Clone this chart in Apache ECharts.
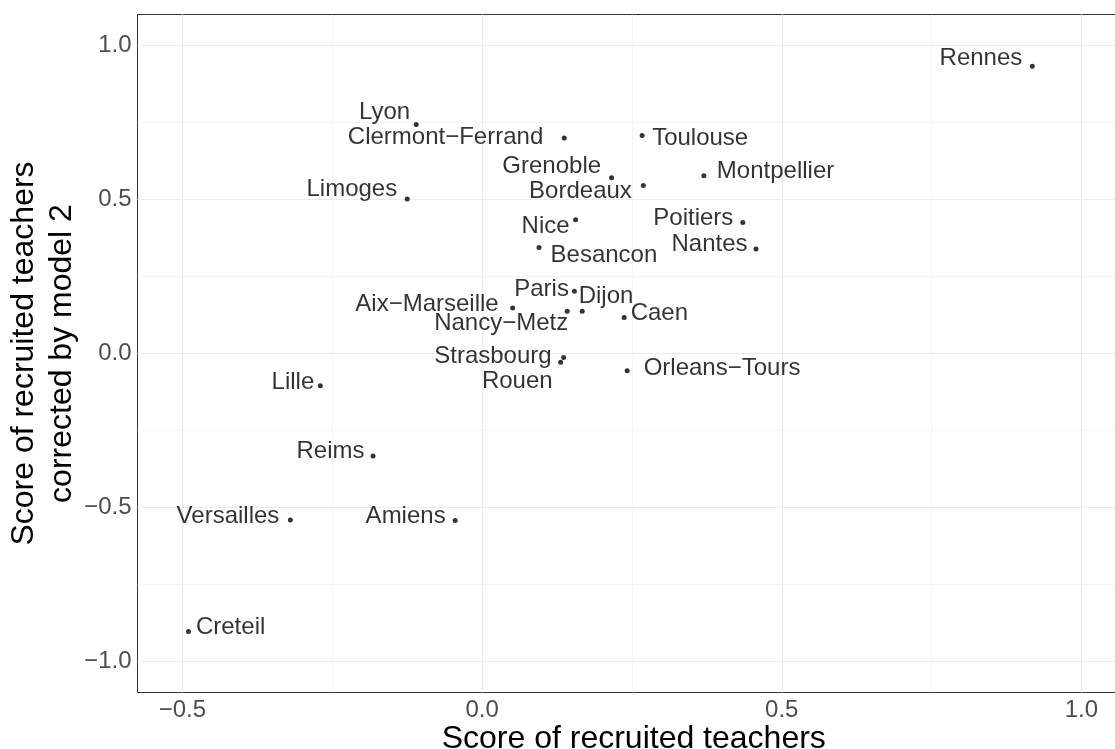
<!DOCTYPE html>
<html>
<head>
<meta charset="utf-8">
<script src="https://cdn.jsdelivr.net/npm/echarts@6/dist/echarts.min.js"></script>
<style>
  html, body { margin: 0; padding: 0; background: #ffffff; }
  #chart { width: 1115px; height: 749px; }
</style>
</head>
<body>
<div id="chart"></div>
<script>
// Academies and their two scores
const academies = [
  'Rennes', 'Lyon', 'Clermont\u2212Ferrand', 'Limoges', 'Toulouse', 'Grenoble',
  'Bordeaux', 'Montpellier', 'Nice', 'Besancon', 'Poitiers', 'Nantes',
  'Paris', 'Dijon', 'Aix\u2212Marseille', 'Nancy\u2212Metz', 'Caen', 'Strasbourg',
  'Rouen', 'Orleans\u2212Tours', 'Lille', 'Reims', 'Versailles', 'Amiens', 'Creteil'
];
const recruitedScore = [
  0.918, -0.110, 0.137, -0.125, 0.267, 0.216,
  0.269, 0.370, 0.156, 0.095, 0.435, 0.457,
  0.154, 0.167, 0.051, 0.142, 0.237, 0.136,
  0.131, 0.242, -0.270, -0.182, -0.320, -0.045, -0.490
];
const correctedScore = [
  0.932, 0.743, 0.699, 0.501, 0.707, 0.570,
  0.545, 0.577, 0.434, 0.344, 0.425, 0.339,
  0.202, 0.137, 0.148, 0.137, 0.117, -0.013,
  -0.028, -0.056, -0.105, -0.333, -0.540, -0.542, -0.902
];

// Tick values
const xTicks = [-0.5, 0.0, 0.5, 1.0];
const yTicks = [-1.0, -0.5, 0.0, 0.5, 1.0];
const xMinorLines = [-0.25, 0.25, 0.75];
const yMinorLines = [-0.75, -0.25, 0.25, 0.75];

// Label placement next to each point: side, gap (px) from the point, vertical shift (px)
const labelPlacement = [
  ['left', 10, -8], ['left', 6, -12], ['left', 21, -1], ['left', 10, -10],
  ['right', 10, 3], ['left', 10.5, -11], ['left', 11.5, 6], ['right', 13, -4],
  ['left', 6, 7], ['right', 11.5, 8], ['left', 9.5, -4.5], ['left', 8.5, -4.5],
  ['left', 5.5, -2], ['right', -3.5, -15], ['left', 14, -3.5], ['left', -1, 12.5],
  ['right', 6.5, -4], ['left', 12, -1.5], ['left', 8, 19], ['right', 16.5, -2.5],
  ['left', 6, -3], ['left', 8.5, -4.5], ['left', 11, -4], ['left', 9.5, -4], ['right', 7.5, -4.5]
];

const FONT = '"Liberation Sans", Arial, Helvetica, sans-serif';
const SYMBOL = 5;

const points = academies.map((name, i) => {
  const [side, gap] = labelPlacement[i];
  return {
    name: name,
    value: [recruitedScore[i], correctedScore[i]],
    label: {
      position: side,
      distance: gap - SYMBOL / 2
    }
  };
});

const tickFmt = v => Number(v).toFixed(1).replace('-', '\u2212');

const gridLines = []
  .concat(xTicks.map(v => ({ xAxis: v, lineStyle: { color: '#EBEBEB', width: 1.2, type: 'solid' } })))
  .concat(xMinorLines.map(v => ({ xAxis: v, lineStyle: { color: '#F2F2F2', width: 0.8, type: 'solid' } })))
  .concat(yTicks.map(v => ({ yAxis: v, lineStyle: { color: '#EBEBEB', width: 1.2, type: 'solid' } })))
  .concat(yMinorLines.map(v => ({ yAxis: v, lineStyle: { color: '#F2F2F2', width: 0.8, type: 'solid' } })));

const chart = echarts.init(document.getElementById('chart'), null, { renderer: 'canvas' });

chart.setOption({
  animation: false,
  backgroundColor: '#ffffff',
  grid: {
    left: 137.5,
    right: -15,
    top: 14.5,
    bottom: 56.5,
    show: true,
    borderColor: '#333333',
    borderWidth: 1,
    backgroundColor: 'transparent',
    containLabel: false,
    outerBoundsMode: 'none'
  },
  xAxis: {
    type: 'value',
    min: -0.575,
    max: 1.081,
    name: 'Score of recruited teachers',
    nameLocation: 'middle',
    nameGap: 31,
    nameMoveOverlap: false,
    nameTextStyle: { fontFamily: FONT, fontSize: 32, color: '#000000' },
    axisLine: { show: false },
    axisTick: {
      show: true, inside: false, length: 4, customValues: xTicks,
      lineStyle: { color: '#333333', width: 1 }
    },
    axisLabel: {
      show: true, margin: 6, customValues: xTicks, formatter: tickFmt,
      fontFamily: FONT, fontSize: 24, color: '#4D4D4D'
    },
    splitLine: { show: false }
  },
  yAxis: {
    type: 'value',
    min: -1.1,
    max: 1.1,
    name: 'Score of recruited teachers\ncorrected by model 2',
    nameLocation: 'middle',
    nameRotate: 90,
    nameGap: 56,
    nameMoveOverlap: false,
    nameTextStyle: { fontFamily: FONT, fontSize: 32, color: '#000000', lineHeight: 38, align: 'center' },
    axisLine: { show: false },
    axisTick: {
      show: true, inside: false, length: 4, customValues: yTicks,
      lineStyle: { color: '#333333', width: 1 }
    },
    axisLabel: {
      show: true, margin: 6, customValues: yTicks, formatter: tickFmt,
      fontFamily: FONT, fontSize: 24, color: '#4D4D4D'
    },
    splitLine: { show: false }
  },
  series: [
    {
      // panel grid lines, kept beneath the points and their labels
      type: 'scatter',
      data: [],
      z: 1,
      silent: true,
      markLine: {
        z: 1,
        silent: true,
        symbol: ['none', 'none'],
        label: { show: false },
        animation: false,
        data: gridLines
      }
    },
    {
      type: 'scatter',
      z: 3,
      symbol: 'circle',
      symbolSize: SYMBOL,
      itemStyle: { color: '#000000' },
      label: {
        show: true,
        formatter: '{b}',
        fontFamily: FONT,
        fontSize: 24,
        color: '#000000',
        textBorderWidth: 0
      },
      labelLayout: params => ({ dy: labelPlacement[params.dataIndex][2], hideOverlap: false }),
      data: points
    }
  ]
});
</script>
</body>
</html>
